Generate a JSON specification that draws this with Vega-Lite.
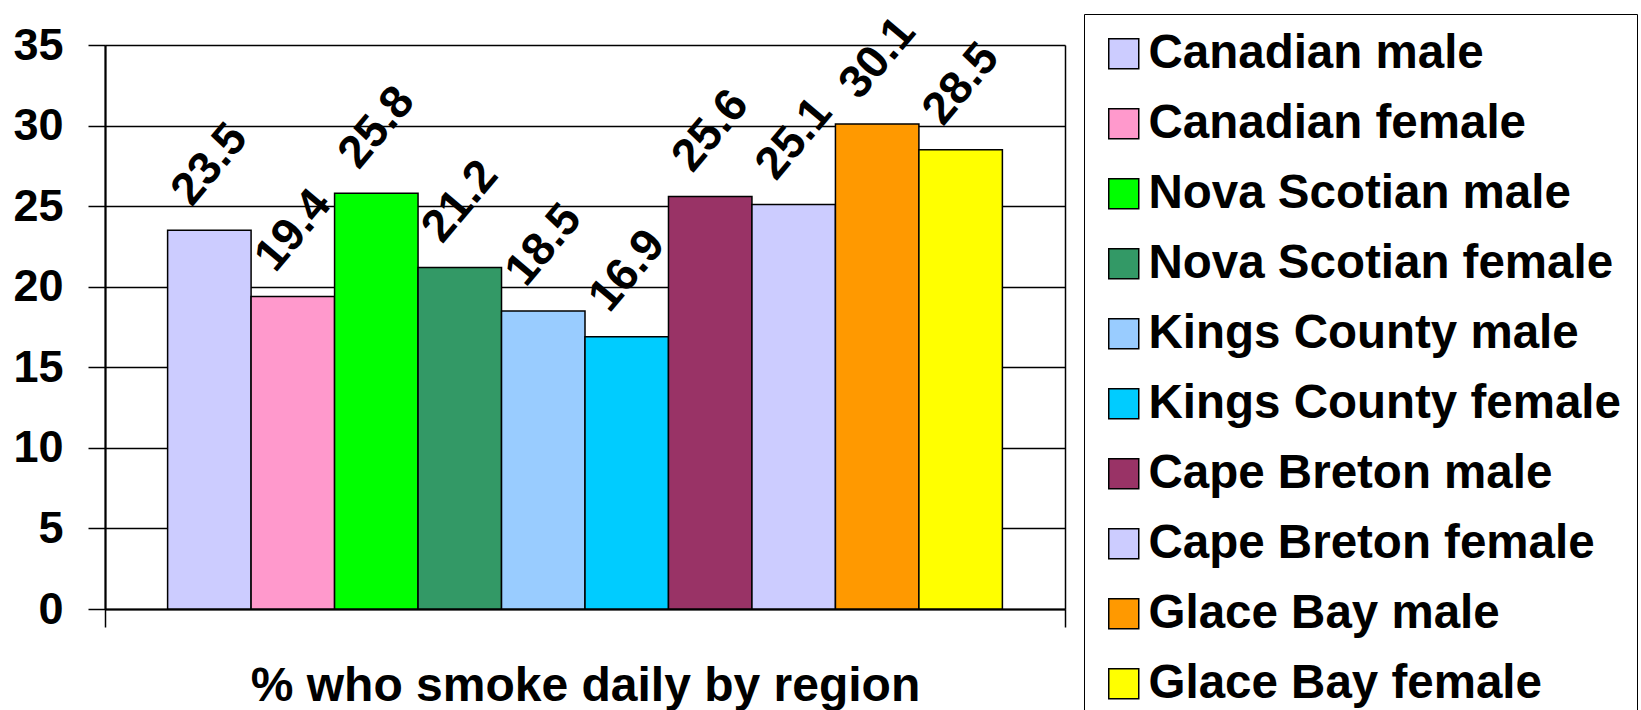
{
  "$schema": "https://vega.github.io/schema/vega-lite/v6.json",
  "autosize": {"type": "none"},
  "padding": {"left": 105, "top": 45, "right": 576, "bottom": 101},
  "width": 960,
  "height": 564,
  "background": "white",
  "config": {
    "view": {"stroke": null},
    "font": "Liberation Sans"
  },
  "data": {
    "values": [
      {"region": "All", "series": "Canadian male", "value": 23.5},
      {"region": "All", "series": "Canadian female", "value": 19.4},
      {"region": "All", "series": "Nova Scotian male", "value": 25.8},
      {"region": "All", "series": "Nova Scotian female", "value": 21.2},
      {"region": "All", "series": "Kings County male", "value": 18.5},
      {"region": "All", "series": "Kings County female", "value": 16.9},
      {"region": "All", "series": "Cape Breton male", "value": 25.6},
      {"region": "All", "series": "Cape Breton female", "value": 25.1},
      {"region": "All", "series": "Glace Bay male", "value": 30.1},
      {"region": "All", "series": "Glace Bay female", "value": 28.5}
    ]
  },
  "encoding": {
    "x": {
      "field": "region",
      "type": "nominal",
      "scale": {"paddingInner": 0, "paddingOuter": 0},
      "axis": {
        "labels": false,
        "title": "% who smoke daily by region",
        "titleFont": "Liberation Sans",
        "titleFontSize": 48,
        "titleFontWeight": "bold",
        "titleColor": "#000",
        "titlePadding": 35,
        "tickBand": "extent",
        "ticks": true,
        "tickSize": 18,
        "tickColor": "#000",
        "tickWidth": 1.5,
        "domainColor": "#000",
        "domainWidth": 2,
        "grid": true,
        "gridColor": "#000",
        "gridWidth": 1.5
      }
    },
    "xOffset": {
      "field": "series",
      "type": "nominal",
      "sort": null,
      "scale": {"paddingInner": 0, "paddingOuter": 0.75}
    },
    "y": {
      "field": "value",
      "type": "quantitative",
      "scale": {"domain": [0, 35], "nice": false},
      "axis": {
        "values": [0, 5, 10, 15, 20, 25, 30, 35],
        "title": null,
        "labelFont": "Liberation Sans",
        "labelFontSize": 45,
        "labelFontWeight": "bold",
        "labelColor": "#000",
        "labelPadding": 25,
        "tickSize": 17,
        "tickColor": "#000",
        "tickWidth": 1.5,
        "domainColor": "#000",
        "domainWidth": 2,
        "grid": true,
        "gridColor": "#000",
        "gridWidth": 1.5
      }
    }
  },
  "layer": [
    {
      "mark": {"type": "bar", "stroke": "#000", "strokeWidth": 1.5},
      "encoding": {
        "fill": {
          "field": "series",
          "type": "nominal",
          "sort": null,
          "scale": {
            "domain": ["Canadian male", "Canadian female", "Nova Scotian male", "Nova Scotian female", "Kings County male", "Kings County female", "Cape Breton male", "Cape Breton female", "Glace Bay male", "Glace Bay female"],
            "range": ["#CCCCFF", "#FF99CC", "#00FF00", "#339966", "#99CCFF", "#00CCFF", "#993366", "#CCCCFF", "#FF9900", "#FFFF00"]
          },
          "legend": {
            "title": null,
            "orient": "none",
            "legendX": 979,
            "legendY": -31,
            "strokeColor": "#000",
            "fillColor": "white",
            "padding": 16,
            "symbolType": "square",
            "symbolSize": 900,
            "symbolStrokeColor": "#000",
            "symbolStrokeWidth": 1.5,
            "symbolOpacity": 1,
            "labelFont": "Liberation Sans",
            "labelFontSize": 47.5,
            "labelFontWeight": "bold",
            "labelColor": "#000",
            "labelOffset": 1,
            "labelLimit": 1000,
            "rowPadding": 21
          }
        }
      }
    },
    {
      "mark": {
        "type": "text",
        "angle": -50,
        "align": "left",
        "baseline": "alphabetic",
        "dx": 6,
        "dy": -28,
        "font": "Liberation Sans",
        "fontSize": 46,
        "fontWeight": "bold",
        "color": "#000"
      },
      "encoding": {
        "text": {"field": "value", "type": "quantitative", "format": ".1f"}
      }
    }
  ]
}
